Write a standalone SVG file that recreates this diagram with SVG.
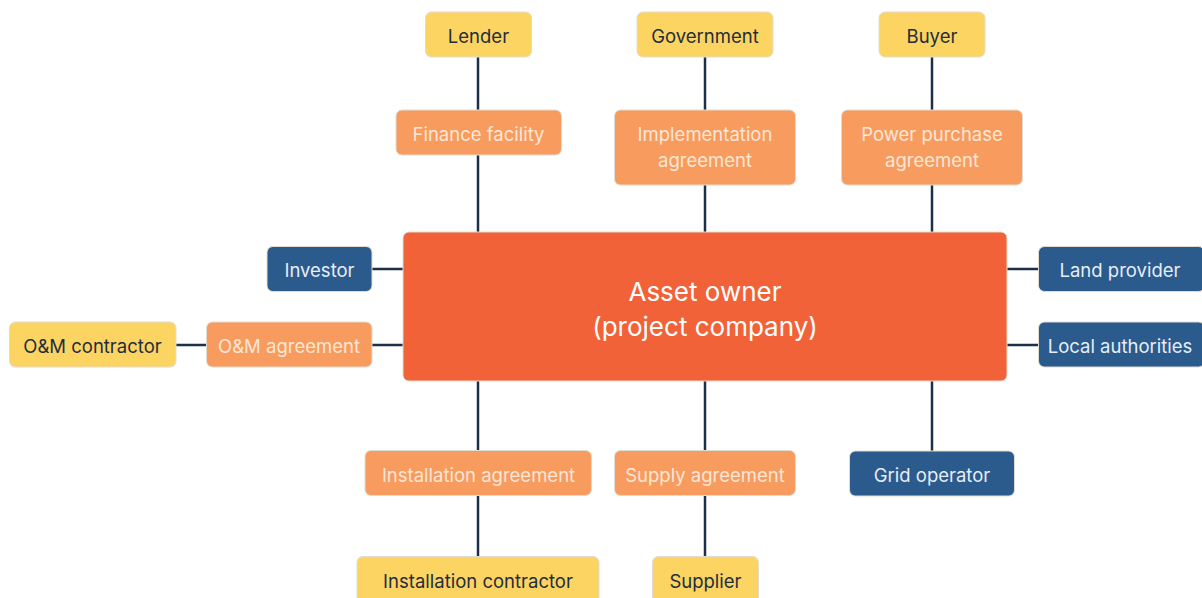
<svg xmlns="http://www.w3.org/2000/svg" width="1202" height="598" viewBox="0 0 1202 598">
<style>
.y{fill:#FCD462;stroke:#E2DCD0;stroke-width:1}
.o{fill:#F79C5E;stroke:#E2DCD0;stroke-width:1}
.b{fill:#2B5A8C;stroke:#E2DCD0;stroke-width:1}
.m{fill:#F26239;stroke:#E2DCD0;stroke-width:1}
text{font-family:Inter,"Open Sans",sans-serif;font-size:18.5px;text-anchor:middle;dominant-baseline:central}
.ty{fill:#1F2D3D}
.to{fill:#FCE6D6}
.tb{fill:#E6EEF6}
.tm{fill:#FFFFFF;font-size:26px}
.c line{stroke:#1C2E4A;stroke-width:2.5}
</style>
<rect width="1202" height="598" fill="#FFFFFF"/>
<g class="c" id="connectors">
<line x1="478" y1="57" x2="478" y2="232"/>
<line x1="705" y1="57" x2="705" y2="232"/>
<line x1="932" y1="57" x2="932" y2="232"/>
<line x1="372" y1="269" x2="403" y2="269"/>
<line x1="176" y1="345" x2="403" y2="345"/>
<line x1="1007" y1="269" x2="1038" y2="269"/>
<line x1="1007" y1="345" x2="1038" y2="345"/>
<line x1="478" y1="381" x2="478" y2="556"/>
<line x1="705" y1="381" x2="705" y2="556"/>
<line x1="932" y1="381" x2="932" y2="451"/>
</g>
<g id="lender"><rect class="y" x="425.5" y="12" width="106" height="45" rx="6"/><text class="ty" x="478.5" y="36">Lender</text></g>
<g id="government"><rect class="y" x="637" y="12" width="136" height="45" rx="6"/><text class="ty" x="705" y="36">Government</text></g>
<g id="buyer"><rect class="y" x="879" y="12" width="106" height="45" rx="6"/><text class="ty" x="932" y="36">Buyer</text></g>
<g id="finance-facility"><rect class="o" x="396" y="110" width="165.5" height="45" rx="6"/><text class="to" x="478.5" y="134">Finance facility</text></g>
<g id="implementation-agreement"><rect class="o" x="614.5" y="110" width="181" height="75" rx="6"/><text class="to" x="705" y="134">Implementation</text><text class="to" x="705" y="160">agreement</text></g>
<g id="ppa"><rect class="o" x="841.5" y="110" width="181" height="75" rx="6"/><text class="to" x="932" y="134">Power purchase</text><text class="to" x="932" y="160">agreement</text></g>
<g id="asset-owner"><rect class="m" x="403" y="232" width="604" height="149" rx="6"/><text class="tm" x="705" y="291">Asset owner</text><text class="tm" x="705" y="326">(project company)</text></g>
<g id="investor"><rect class="b" x="267" y="246.5" width="105" height="45" rx="6"/><text class="tb" x="319.5" y="270">Investor</text></g>
<g id="om-agreement"><rect class="o" x="206.5" y="322" width="165.5" height="45" rx="6"/><text class="to" x="289" y="346">O&amp;M agreement</text></g>
<g id="om-contractor"><rect class="y" x="9.5" y="322" width="166.5" height="45" rx="6"/><text class="ty" x="92.5" y="346">O&amp;M contractor</text></g>
<g id="land-provider"><rect class="b" x="1038.5" y="246.5" width="166" height="45" rx="6"/><text class="tb" x="1120" y="270">Land provider</text></g>
<g id="local-authorities"><rect class="b" x="1038.5" y="322" width="166" height="45" rx="6"/><text class="tb" x="1120" y="346">Local authorities</text></g>
<g id="installation-agreement"><rect class="o" x="365" y="450.5" width="226.5" height="45" rx="6"/><text class="to" x="478.5" y="475">Installation agreement</text></g>
<g id="supply-agreement"><rect class="o" x="614.5" y="450.5" width="181" height="45" rx="6"/><text class="to" x="705" y="475">Supply agreement</text></g>
<g id="grid-operator"><rect class="b" x="849.5" y="451" width="165" height="45" rx="6"/><text class="tb" x="932" y="475">Grid operator</text></g>
<g id="installation-contractor"><rect class="y" x="357" y="556.5" width="242" height="50" rx="6"/><text class="ty" x="478" y="581">Installation contractor</text></g>
<g id="supplier"><rect class="y" x="652.5" y="556.5" width="106" height="50" rx="6"/><text class="ty" x="705.5" y="581">Supplier</text></g>
</svg>
